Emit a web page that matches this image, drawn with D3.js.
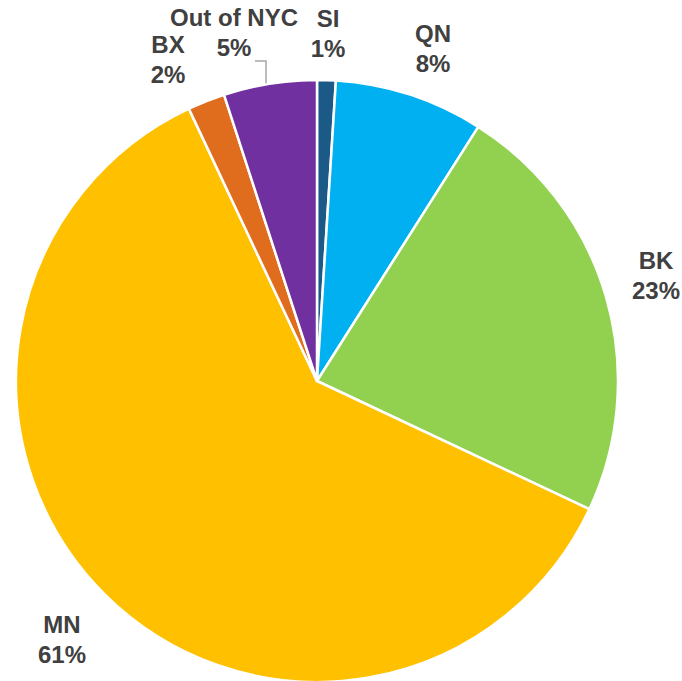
<!DOCTYPE html>
<html>
<head>
<meta charset="utf-8">
<script src="https://cdn.jsdelivr.net/npm/d3@7"></script>
<style>
  html, body { margin: 0; padding: 0; background: #ffffff; }
  svg { display: block; }
  text { font-family: "Liberation Sans", Arial, sans-serif; font-weight: bold; fill: #404040; }
</style>
</head>
<body>
<svg id="chart" width="682" height="681"></svg>
<script>
// Share of trips by borough (percent), clockwise from 12 o'clock
const categories = ["SI", "QN", "BK", "MN", "BX", "Out of NYC"];
const shares = [1, 8, 23, 61, 2, 5];
const colors = ["#1b5a86", "#00b0f0", "#92d050", "#ffc000", "#e06c1e", "#7030a0"];

const width = 682, height = 681;
const cx = 317, cy = 381, radius = 301;

// Label blocks: horizontal centre and first-line baseline, page coordinates
const labelLayout = {
  "SI":         { x: 328, y: 27 },
  "QN":         { x: 433, y: 42 },
  "BK":         { x: 656, y: 269 },
  "MN":         { x: 62,  y: 633 },
  "BX":         { x: 168, y: 53 },
  "Out of NYC": { x: 234, y: 26 }
};

const svg = d3.select("#chart");
const g = svg.append("g").attr("transform", `translate(${cx},${cy})`);

const data = categories.map((c, i) => ({ name: c, value: shares[i], color: colors[i] }));

const pie = d3.pie().sort(null).value(d => d.value).startAngle(0).endAngle(2 * Math.PI);
const arcs = pie(data);

const arc = d3.arc().innerRadius(0).outerRadius(radius);

g.selectAll("path.slice")
  .data(arcs)
  .join("path")
  .attr("class", "slice")
  .attr("d", arc)
  .attr("fill", d => d.data.color)
  .attr("stroke", "#ffffff")
  .attr("stroke-width", 2.5)
  .attr("stroke-linejoin", "round");

const fontSize = 24, lineGap = 29.5;

const labels = svg.selectAll("g.label")
  .data(arcs)
  .join("g")
  .attr("class", "label")
  .attr("transform", d => {
    const p = labelLayout[d.data.name];
    return `translate(${p.x},${p.y})`;
  });

labels.append("text")
  .attr("text-anchor", "middle")
  .attr("font-size", fontSize)
  .attr("y", 0)
  .text(d => d.data.name);

labels.append("text")
  .attr("text-anchor", "middle")
  .attr("font-size", fontSize)
  .attr("y", lineGap)
  .text(d => d3.format(".0f")(d.data.value) + "%");

// Leader line from the "Out of NYC" label down to its slice
const outArc = arcs.find(d => d.data.name === "Out of NYC");
const leadAngle = outArc.startAngle + (outArc.endAngle - outArc.startAngle) * 0.46;
const ex = (radius + 1) * Math.sin(leadAngle);
const ey = -(radius + 1) * Math.cos(leadAngle);
const elbowY = 61 - cy;
g.append("path")
  .attr("d", `M${ex - 11},${elbowY}H${ex}V${ey}`)
  .attr("fill", "none")
  .attr("stroke", "#a6a6a6")
  .attr("stroke-width", 1.5);
</script>
</body>
</html>
